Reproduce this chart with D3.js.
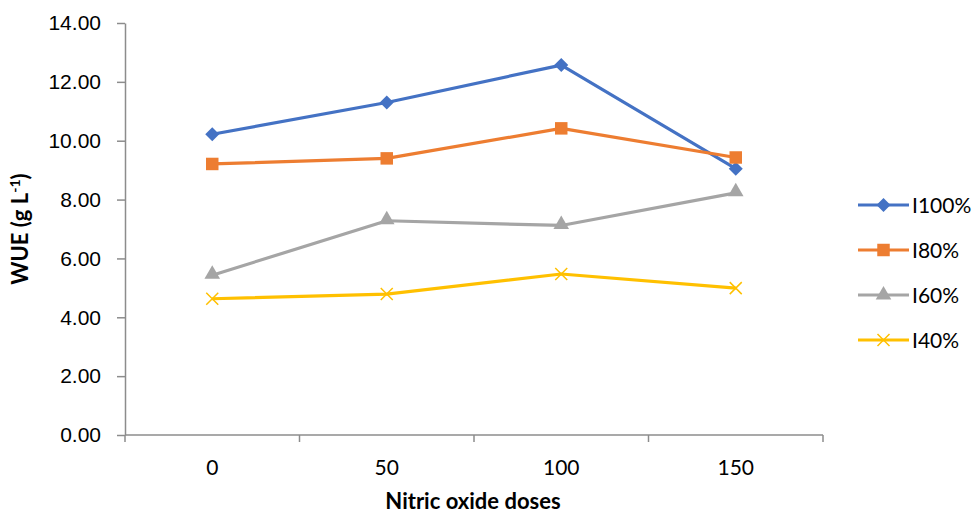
<!DOCTYPE html>
<html>
<head>
<meta charset="utf-8">
<script src="https://cdn.jsdelivr.net/npm/d3@7"></script>
<style>
  html, body { margin: 0; padding: 0; background: #fff; }
  svg { display: block; font-family: Lato, "Open Sans", sans-serif; }
  .axis path, .axis line { stroke: #8c8c8c; stroke-width: 1.5; }
  .axis text { font-size: 21px; fill: #000; }
</style>
</head>
<body>
<svg id="chart" width="974" height="515"></svg>
<script>
const doses = ["0", "50", "100", "150"];
const seriesNames = ["I100%", "I80%", "I60%", "I40%"];
const i100 = [10.22, 11.30, 12.57, 9.05];
const i80 = [9.21, 9.40, 10.42, 9.43];
const i60 = [5.43, 7.28, 7.12, 8.23];
const i40 = [4.63, 4.79, 5.47, 4.99];
const yTicks = [0, 2, 4, 6, 8, 10, 12, 14];
const colors = ["#4472C4", "#ED7D31", "#A5A5A5", "#FFC000"];
const markers = ["diamond", "square", "triangle", "cross"];

const series = [i100, i80, i60, i40].map((values, i) => ({
  name: seriesNames[i],
  color: colors[i],
  marker: markers[i],
  values: values.map((v, j) => ({ dose: doses[j], value: v })),
}));

const svg = d3.select("#chart");
const margin = { top: 23, right: 151, bottom: 80, left: 125 };
const width = 974 - margin.left - margin.right;
const height = 515 - margin.top - margin.bottom;
const g = svg.append("g").attr("transform", `translate(${margin.left},${margin.top})`);

const x = d3.scaleBand().domain(doses).range([0, width]).padding(0);
const y = d3.scaleLinear().domain([0, 14]).range([height, 0]);

// y axis
g.append("g").attr("class", "axis")
  .call(d3.axisLeft(y).tickValues(yTicks).tickSize(8).tickPadding(16).tickSizeOuter(0).tickFormat(d3.format(".2f")));

// x axis, ticks sit between categories
const xAxis = g.append("g").attr("class", "axis").attr("transform", `translate(0,${height})`);
xAxis.append("line").attr("x1", 0).attr("x2", width).attr("y1", 0).attr("y2", 0);
xAxis.selectAll(".bound").data(d3.range(doses.length + 1)).enter().append("line")
  .attr("x1", (d) => d * x.step()).attr("x2", (d) => d * x.step())
  .attr("y1", 0).attr("y2", 7);
xAxis.selectAll("text").data(doses).enter().append("text")
  .attr("x", (d) => x(d) + x.bandwidth() / 2)
  .attr("y", 40)
  .attr("text-anchor", "middle")
  .text((d) => d);

function markerPath(type) {
  if (type === "diamond") return "M0,-7L7,0L0,7L-7,0Z";
  if (type === "square") return d3.symbol(d3.symbolSquare, 156)();
  if (type === "triangle") return d3.symbol(d3.symbolTriangle, 105)();
  return "M-6,-6L6,6M-6,6L6,-6";
}

function drawMarker(sel, s) {
  const p = sel.append("path").attr("d", markerPath(s.marker));
  if (s.marker === "cross") p.attr("fill", "none").attr("stroke", s.color).attr("stroke-width", 1.5);
  else p.attr("fill", s.color);
}

const line = d3.line().x((d) => x(d.dose) + x.bandwidth() / 2).y((d) => y(d.value));

series.forEach((s) => {
  g.append("path").datum(s.values)
    .attr("fill", "none").attr("stroke", s.color).attr("stroke-width", 3.2)
    .attr("stroke-linejoin", "round").attr("d", line);
  s.values.forEach((d) => {
    const m = g.append("g").attr("transform", `translate(${x(d.dose) + x.bandwidth() / 2},${y(d.value) + (s.marker === "triangle" ? -1 : 0)})`);
    drawMarker(m, s);
  });
});

// legend
const legend = svg.append("g").attr("transform", "translate(858,205)");
series.forEach((s, i) => {
  const row = legend.append("g").attr("transform", `translate(0,${i * 45})`);
  row.append("line").attr("x1", 0).attr("x2", 51).attr("stroke", s.color).attr("stroke-width", 3.2);
  drawMarker(row.append("g").attr("transform", "translate(25.5,0)"), s);
  row.append("text").attr("x", 54).attr("y", 7.5).attr("font-size", 21).text(s.name);
});

// axis titles
svg.append("text")
  .attr("x", 473).attr("y", 509)
  .attr("text-anchor", "middle").attr("font-weight", 700).attr("font-size", 22)
  .text("Nitric oxide doses");

const yt = svg.append("text")
  .attr("transform", "translate(28,229) rotate(-90)")
  .attr("text-anchor", "middle").attr("font-weight", 700).attr("font-size", 22);
yt.append("tspan").text("WUE (g L");
yt.append("tspan").attr("dy", -8).attr("font-size", 14).text("-1");
yt.append("tspan").attr("dy", 8).text(")");
</script>
</body>
</html>
